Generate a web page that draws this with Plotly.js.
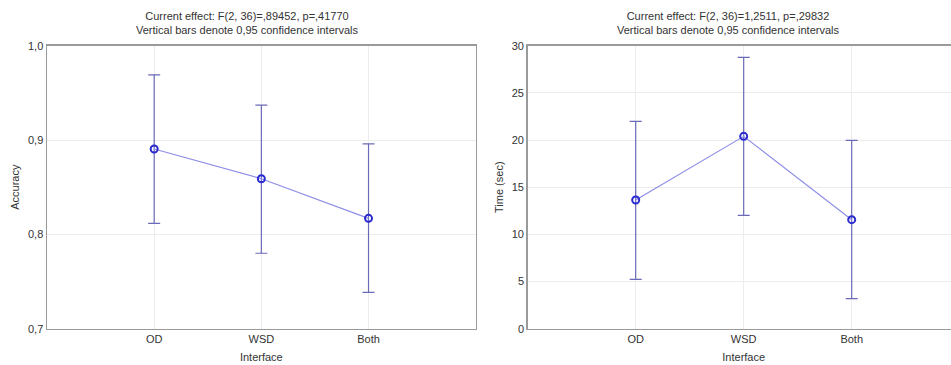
<!DOCTYPE html>
<html>
<head>
<meta charset="utf-8">
<script src="https://cdn.plot.ly/plotly-3.0.1.min.js"></script>
<style>
html,body{margin:0;padding:0;overflow:hidden;background:#fff;}
#chart{width:960px;height:365px;}
</style>
</head>
<body>
<div id="chart"></div>
<script>
const categories = ["OD", "WSD", "Both"];
const accuracyMean = [0.8905, 0.859, 0.817];
const accuracyUpper = [0.969, 0.937, 0.896];
const accuracyLower = [0.8117, 0.780, 0.7385];
const timeMean = [13.64, 20.39, 11.56];
const timeUpper = [21.98, 28.76, 19.96];
const timeLower = [5.23, 12.01, 3.18];
const titleLeft = "Current effect: F(2, 36)=,89452, p=,41770<br>Vertical bars denote 0,95 confidence intervals";
const titleRight = "Current effect: F(2, 36)=1,2511, p=,29832<br>Vertical bars denote 0,95 confidence intervals";

const W = 960, H = 365;
const markerColor = "#2a2ad0";
const lineColor = "#8e8ee8";
const errColor = "#6a6ab8";
const font = {family: "Liberation Sans, Arial, sans-serif", size: 11, color: "#333"};

function trace(mean, up, lo, xa, ya) {
  return {
    x: categories,
    y: mean,
    xaxis: xa, yaxis: ya,
    type: "scatter",
    mode: "lines+markers",
    line: {color: lineColor, width: 1.2},
    marker: {symbol: "circle-open", size: 7, color: markerColor, line: {width: 2, color: markerColor}},
    error_y: {
      type: "data",
      symmetric: false,
      array: up.map((v, i) => v - mean[i]),
      arrayminus: mean.map((v, i) => v - lo[i]),
      color: errColor,
      thickness: 1.2,
      width: 6
    },
    showlegend: false,
    hoverinfo: "x+y"
  };
}

const yDom = [1 - 328.7 / H, 1 - 45.7 / H];
const axBase = {
  showline: true, mirror: true, linecolor: "#9a9a9a", linewidth: 1.5,
  showgrid: true, gridcolor: "#ececec", gridwidth: 1,
  zeroline: false, ticks: "", tickfont: font, automargin: false
};

const layout = {
  width: W, height: H,
  margin: {l: 0, r: 0, t: 0, b: 0},
  paper_bgcolor: "#fff", plot_bgcolor: "#fff",
  separators: ",.",
  font: font,
  xaxis: Object.assign({}, axBase, {
    domain: [47 / W, 475.7 / W], range: [-1, 3], type: "category",
    title: {text: "Interface", font: font, standoff: 9}
  }),
  yaxis: Object.assign({}, axBase, {
    domain: yDom, range: [0.7, 1.0], tickvals: [0.7, 0.8, 0.9, 1.0], tickformat: ".1f",
    title: {text: "Accuracy", font: font, standoff: 6}
  }),
  xaxis2: Object.assign({}, axBase, {
    domain: [527.7 / W, 959.7 / W], range: [-1, 3], type: "category", anchor: "y2",
    title: {text: "Interface", font: font, standoff: 9}
  }),
  yaxis2: Object.assign({}, axBase, {
    domain: yDom, range: [0, 30], tickvals: [0, 5, 10, 15, 20, 25, 30], anchor: "x2",
    title: {text: "Time (sec)", font: font, standoff: 6}
  }),
  annotations: [
    {text: titleLeft, x: 247 / W, y: 1 - 8 / H, xref: "paper", yref: "paper",
     xanchor: "center", yanchor: "top", showarrow: false, font: font, align: "center"},
    {text: titleRight, x: 728 / W, y: 1 - 8 / H, xref: "paper", yref: "paper",
     xanchor: "center", yanchor: "top", showarrow: false, font: font, align: "center"}
  ]
};

Plotly.newPlot("chart", [
  trace(accuracyMean, accuracyUpper, accuracyLower, "x", "y"),
  trace(timeMean, timeUpper, timeLower, "x2", "y2")
], layout, {displayModeBar: false, staticPlot: true});
</script>
</body>
</html>
